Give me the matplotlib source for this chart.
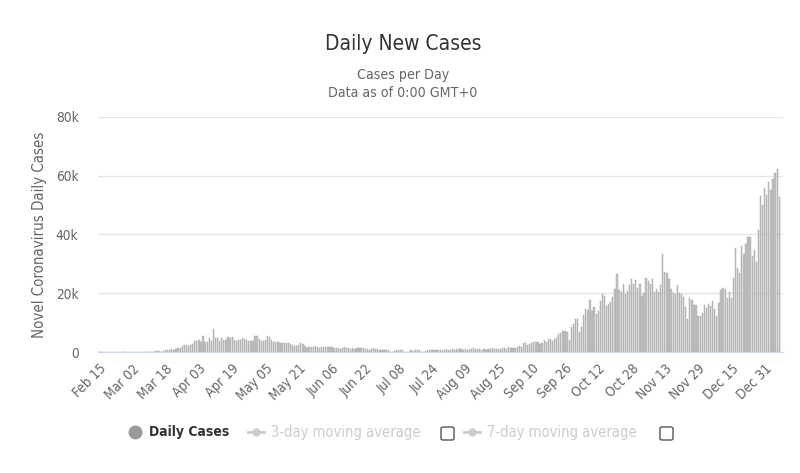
import numpy as np
import pandas as pd
from matplotlib import pyplot as plt
from matplotlib import font_manager
from matplotlib.lines import Line2D
from matplotlib.patches import FancyBboxPatch

# daily new cases, Feb 15 2020 .. Jan 07 2021
cases_feb = [0, 0, 0, 0, 0, 0, 0, 0, 0, 4, 0, 0, 2, 5, 3]
cases_mar = [12, 4, 11, 34, 30, 48, 43, 67, 48, 61, 74, 134, 208, 342, 251, 152,
             407, 676, 643, 714, 1035, 665, 967, 1427, 1452, 1900, 2500, 2300, 2200,
             2400, 2800]
cases_apr = [3900, 3800, 4000, 3400, 5300, 3400, 3300, 4900, 3900, 7800, 4700, 4700,
             3900, 4700, 4100, 4200, 5000, 4900, 5200, 4200, 3900, 4000, 4100, 4800,
             4400, 4000, 3900, 3600, 3700, 5400]
cases_may = [5500, 4300, 3900, 3600, 4000, 5500, 5000, 4200, 3500, 3500, 3500, 3100,
             2900, 3100, 3200, 3100, 2800, 2400, 2200, 2200, 2400, 2900, 2700, 2200,
             1500, 1800, 1800, 1700, 1900, 1700, 1400]
cases_jun = [1653, 1871, 1871, 1805, 1650, 1557, 1326, 1205, 1387, 1003, 1266, 1541,
             1425, 1514, 1056, 1279, 1115, 1218, 1346, 1295, 1221, 958, 874, 653,
             1118, 1380, 890, 901, 815, 689]
cases_jul = [829, 576, 544, 0, 0, 352, 581, 630, 512, 642, 0, 0, 0, 538, 398, 642,
             687, 827, 0, 0, 445, 560, 769, 768, 767, 747, 685, 581, 763, 846, 880]
cases_aug = [743, 744, 938, 670, 892, 950, 871, 758, 1062, 816, 1148, 1009, 1441,
             1012, 1077, 1040, 713, 1089, 812, 1182, 1033, 1288, 1041, 853, 1184,
             1048, 1522, 1276, 1108, 1715, 1406]
cases_sep = [1295, 1508, 1735, 1940, 1813, 2988, 2948, 2460, 2659, 2919, 3539, 3497,
             3330, 2621, 3105, 3991, 3395, 4322, 4422, 3899, 4368, 4926, 6178, 6634,
             7100, 7000, 6900, 4044, 8600, 9700]
cases_oct = [11200, 11400, 6800, 8600, 12594, 14542, 14162, 17540, 13864, 15166,
             12872, 13972, 17234, 19724, 18980, 15650, 16171, 16982, 18804, 21331,
             26688, 21242, 20530, 23012, 19790, 20890, 22885, 24701, 23065, 24405,
             21915]
cases_nov = [23254, 18950, 20018, 25177, 24141, 23287, 24957, 20572, 21350, 20412,
             22950, 33470, 27301, 26860, 24962, 21363, 20051, 19609, 22915, 20252,
             19875, 18662, 15450, 11299, 18213, 17555, 16022, 15871, 12155, 12330]
cases_dec = [13430, 16170, 14879, 16298, 15539, 17272, 14718, 12282, 16578, 20964,
             21672, 21502, 18447, 20263, 18450, 25161, 35383, 28507, 27052, 35928,
             33364, 36804, 39237, 39036, 32725, 34693, 30501, 41385, 53135, 50023,
             55892]
cases_jan = [53285, 57725, 54990, 58784, 60916, 62322, 52618]

cases = (cases_feb + cases_mar + cases_apr + cases_may + cases_jun + cases_jul +
         cases_aug + cases_sep + cases_oct + cases_nov + cases_dec + cases_jan)
dates = pd.date_range("2020-02-15", periods=len(cases), freq="D")

y_ticks = [0, 20000, 40000, 60000, 80000]
y_labels = ["0", "20k", "40k", "60k", "80k"]
tick_step = 16

# want a narrow font like the original, take what is there
fonts = font_manager.fontManager.ttflist
names = {f.name for f in fonts}
if "Liberation Sans Narrow" in names:
    plt.rcParams["font.family"] = "Liberation Sans Narrow"
elif any(f.name == "DejaVu Sans" and "condensed" in str(f.stretch) for f in fonts):
    plt.rcParams["font.family"] = "DejaVu Sans"
    plt.rcParams["font.stretch"] = "condensed"
else:
    plt.rcParams["font.family"] = "Liberation Sans"

W, H = 800, 473
fig = plt.figure(figsize=(W / 100, H / 100), dpi=100)

def fx(px):
    return px / W

def fy(py):
    return 1 - py / H

ax = fig.add_axes([fx(98), fy(352), fx(783) - fx(98), fy(117) - fy(352)])
x = np.arange(len(cases))
ax.bar(x, cases, width=0.62, color="#c4c4c4", edgecolor="#a0a0a0", linewidth=0.3)

ax.set_xlim(-0.5, 328.8)
ax.set_ylim(0, 80000)
ax.set_yticks(y_ticks)
ax.set_yticklabels(y_labels)
ax.grid(axis="y", color="#e6e6e6", linewidth=1)
ax.set_axisbelow(True)
for s in ["top", "right", "left"]:
    ax.spines[s].set_visible(False)
ax.spines["bottom"].set_color("#ccd6eb")
ax.tick_params(axis="y", length=0, pad=14, labelsize=9.8, labelcolor="#666666")

tick_idx = x[::tick_step]
ax.set_xticks(tick_idx)
ax.set_xticklabels([dates[i].strftime("%b %d") for i in tick_idx], rotation=45,
                   ha="right", rotation_mode="anchor")
ax.tick_params(axis="x", length=0, pad=7, labelsize=9.8, labelcolor="#666666")

ax.set_ylabel("Novel Coronavirus Daily Cases", fontsize=10.8, color="#666666", labelpad=6)

fig.text(fx(403), fy(44), "Daily New Cases", ha="center", va="center",
         fontsize=15, color="#333333")
fig.text(fx(403), fy(75), "Cases per Day", ha="center", va="center",
         fontsize=10.2, color="#666666")
fig.text(fx(403), fy(93), "Data as of 0:00 GMT+0", ha="center", va="center",
         fontsize=10.2, color="#666666")

# legend, drawn by hand like the highcharts one
ly = fy(432)
fig.add_artist(Line2D([fx(135)], [ly], marker="o", markersize=9, color="#999999",
                      transform=fig.transFigure))
fig.text(fx(149), ly, "Daily Cases", ha="left", va="center", fontsize=10,
         fontweight="bold", color="#333333")

for x0, label in [(248, "3-day moving average"), (464, "7-day moving average")]:
    fig.add_artist(Line2D([fx(x0), fx(x0 + 16)], [ly, ly], color="#cccccc", lw=2,
                          transform=fig.transFigure))
    fig.add_artist(Line2D([fx(x0 + 8)], [ly], marker="o", markersize=5, color="#cccccc",
                          transform=fig.transFigure))
    fig.text(fx(x0 + 23), ly, label, ha="left", va="center", fontsize=10.5,
             color="#cccccc")

for bx in [441, 660]:
    fig.add_artist(FancyBboxPatch((fx(bx), fy(440)), fx(13), fy(427) - fy(440),
                                  boxstyle="round,pad=0,rounding_size=0.003",
                                  facecolor="white", edgecolor="#555555", lw=1,
                                  transform=fig.transFigure))

fig.savefig("out.png", dpi=100)
